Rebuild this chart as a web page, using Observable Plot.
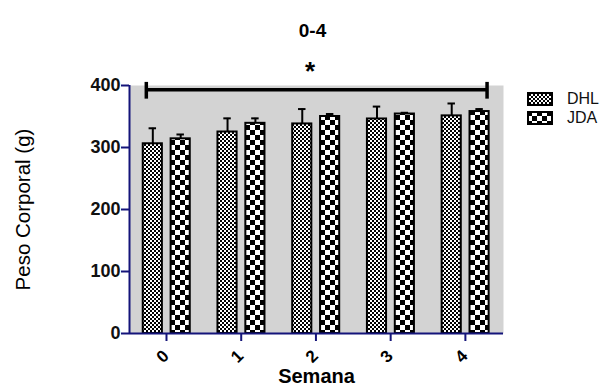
<!DOCTYPE html>
<html>
<head>
<meta charset="utf-8">
<script src="https://cdn.jsdelivr.net/npm/d3@7"></script>
<script src="https://cdn.jsdelivr.net/npm/@observablehq/plot@0.6"></script>
<style>
  html, body { margin: 0; padding: 0; background: white; }
  #wrap { position: relative; width: 611px; height: 388px; font-family: "Liberation Sans", Arial, sans-serif; }
  #legend { position: absolute; left: 527px; top: 90px; }
  .row { display: flex; align-items: center; height: 18.6px; }
  .lt { font-size: 16px; line-height: 18px; color: #111; }
</style>
</head>
<body>
<svg width="0" height="0" style="position:absolute">
  <defs>
    <pattern id="pDHL" patternUnits="userSpaceOnUse" width="4" height="4">
      <rect width="4" height="4" fill="white"/>
      <rect width="2" height="2" fill="black"/>
      <rect x="2" y="2" width="2" height="2" fill="black"/>
    </pattern>
    <pattern id="pJDA" patternUnits="userSpaceOnUse" width="10" height="10">
      <rect width="10" height="10" fill="white"/>
      <rect width="5" height="5" fill="black"/>
      <rect x="5" y="5" width="5" height="5" fill="black"/>
    </pattern>
  </defs>
</svg>
<div id="wrap">
  <div id="chart"></div>
  <div id="legend"></div>
</div>
<script>
// ---- data ----
const title = "0-4";
const weeks = [0, 1, 2, 3, 4];
const groups = ["DHL", "JDA"];
const dhlMean = [306, 325, 338, 346, 351];
const dhlSD   = [25, 22, 24, 20, 20];
const jdaMean = [314, 339, 350, 354, 358];
const jdaSD   = [7, 8, 4, 2, 4];
const yTicks = [0, 100, 200, 300, 400];
const sigLabel = "*";
const sigLevel = [393];        // value level of the significance bracket
const xLabel = "Semana";
const yLabel = "Peso Corporal (g)";

// ---- layout (styles, not data) ----
const navy = "#14147a";
const xDomain = [-0.495, 4.51];
const offsets = {DHL: -0.183, JDA: 0.19};
const halfW = 0.128;
const capW = 0.05;
const patterns = {DHL: "url(#pDHL)", JDA: "url(#pJDA)"};

const rows = [];
weeks.forEach((w, i) => {
  rows.push({week: w, group: "DHL", mean: dhlMean[i], sd: dhlSD[i]});
  rows.push({week: w, group: "JDA", mean: jdaMean[i], sd: jdaSD[i]});
});
const cx = d => d.week + offsets[d.group];

const sigX1 = weeks[0] - 0.27;
const sigX2 = weeks[weeks.length - 1] + 0.29;

const chart = Plot.plot({
  width: 611,
  height: 388,
  marginLeft: 129,
  marginRight: 108,
  marginTop: 85,
  marginBottom: 55,
  x: {domain: xDomain, axis: null},
  y: {domain: [0, 400], axis: null},
  style: {fontFamily: "'Liberation Sans', Arial, sans-serif", background: "white", color: "black", overflow: "visible"},
  marks: [
    Plot.frame({fill: "#d3d3d3", stroke: "none"}),
    ...groups.map(g => Plot.rectY(rows.filter(d => d.group === g), {
      x1: d => cx(d) - halfW, x2: d => cx(d) + halfW, y1: 0, y2: "mean",
      fill: patterns[g], stroke: "black", strokeWidth: 2
    })),
    Plot.ruleX(rows, {x: cx, y1: "mean", y2: d => d.mean + d.sd, stroke: "black", strokeWidth: 2}),
    Plot.ruleY(rows, {y: d => d.mean + d.sd, x1: d => cx(d) - capW, x2: d => cx(d) + capW, stroke: "black", strokeWidth: 2}),
    // significance bracket
    Plot.ruleY(sigLevel, {x1: sigX1, x2: sigX2, stroke: "black", strokeWidth: 3.5}),
    Plot.ruleX([sigX1, sigX2], {y1: sigLevel[0] - 15, y2: sigLevel[0] + 12, stroke: "black", strokeWidth: 3.5}),
    Plot.text([sigLabel], {x: weeks[2], y: sigLevel[0] + 46, dx: -6, fontSize: 26, fontWeight: "bold", lineAnchor: "top"}),
    // axes
    Plot.ruleY([0], {stroke: navy, strokeWidth: 2}),
    Plot.ruleX([xDomain[0]], {stroke: navy, strokeWidth: 2}),
    Plot.axisY({ticks: yTicks, tickSize: 8, stroke: navy, strokeWidth: 2, tickPadding: 1, fontSize: 18, fontWeight: "bold", fill: "#111", label: null}),
    Plot.axisX({ticks: weeks, tickSize: 8, stroke: navy, strokeWidth: 2, tickFormat: () => "", label: null}),
    Plot.text(weeks, {x: d => d, text: d => String(d), frameAnchor: "bottom", dy: 27, rotate: -45, fontSize: 17, fontWeight: "bold"}),
    Plot.text([xLabel], {frameAnchor: "bottom", dy: 49, fontSize: 20, fontWeight: "bold"}),
    Plot.text([yLabel], {frameAnchor: "left", textAnchor: "middle", dx: -106, rotate: -90, fontSize: 20.5}),
    Plot.text([title], {frameAnchor: "top", dy: -62, dx: -4, fontSize: 19, fontWeight: "bold"})
  ]
});
document.getElementById("chart").appendChild(chart);

const legend = d3.select("#legend");
groups.forEach(g => {
  const row = legend.append("div").attr("class", "row");
  row.append("svg").attr("width", 26).attr("height", 14).style("margin-right", "14px")
    .append("rect").attr("x", 1).attr("y", 1).attr("width", 24).attr("height", 12)
    .attr("fill", patterns[g]).attr("stroke", "black").attr("stroke-width", 2);
  row.append("span").attr("class", "lt").text(g);
});
</script>
</body>
</html>
